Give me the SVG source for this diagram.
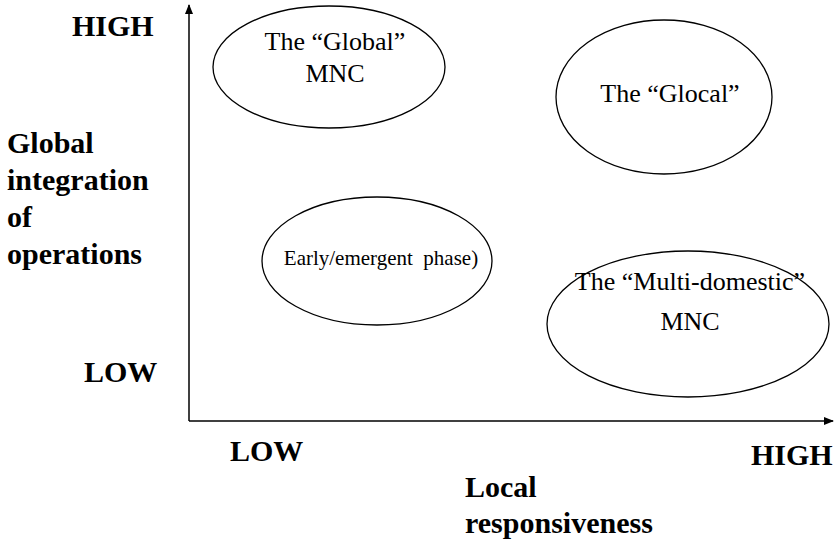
<svg xmlns="http://www.w3.org/2000/svg" width="835" height="544" viewBox="0 0 835 544">
  <style>
    .bg { fill: #ffffff; }
    .axis { stroke: #000; stroke-width: 1.5; fill: none; }
    .oval { stroke: #000; stroke-width: 1.3; fill: none; }
    .lbl { font-size: 26px; fill: #000; }
    .small { font-size: 21px; }
    .bold { font-weight: bold; font-size: 30px; fill: #000; }
  </style>
  <defs>
    <marker id="arrow" viewBox="0 0 10 10" refX="9" refY="5" markerWidth="10" markerHeight="10" markerUnits="userSpaceOnUse" orient="auto">
      <path d="M0,1 L10,5 L0,9 Z" fill="#000"/>
    </marker>
  </defs>
  <rect class="bg" x="0" y="0" width="835" height="544"/>

  <!-- axes -->
  <g id="connectors">
    <line class="axis" x1="189" y1="421" x2="189" y2="5" marker-end="url(#arrow)"/>
    <line class="axis" x1="189" y1="421" x2="833" y2="421" marker-end="url(#arrow)"/>
  </g>

  <g font-family="Liberation Serif, Times New Roman, serif">
    <!-- axis labels -->
    <g id="y-axis-labels">
      <text class="bold" x="72" y="36">HIGH</text>
      <text class="bold" x="84" y="382">LOW</text>
      <text class="bold" x="7" y="153">Global</text>
      <text class="bold" x="7" y="190">integration</text>
      <text class="bold" x="7" y="227">of</text>
      <text class="bold" x="7" y="264">operations</text>
    </g>
    <g id="x-axis-labels">
      <text class="bold" x="230" y="461">LOW</text>
      <text class="bold" x="751" y="465">HIGH</text>
      <text class="bold" x="465" y="497">Local</text>
      <text class="bold" x="465" y="533">responsiveness</text>
    </g>

    <!-- quadrants -->
    <g id="global-mnc">
      <ellipse class="oval" cx="329" cy="67" rx="116" ry="61"/>
      <text class="lbl" x="335" y="50" text-anchor="middle">The “Global”</text>
      <text class="lbl" x="335" y="82" text-anchor="middle">MNC</text>
    </g>
    <g id="glocal">
      <ellipse class="oval" cx="664" cy="97" rx="108" ry="77"/>
      <text class="lbl" x="670" y="102" text-anchor="middle">The “Glocal”</text>
    </g>
    <g id="early-phase">
      <ellipse class="oval" cx="377" cy="261" rx="115" ry="64"/>
      <text class="lbl small" x="381" y="265" text-anchor="middle" xml:space="preserve">Early/emergent  phase)</text>
    </g>
    <g id="multi-domestic">
      <ellipse class="oval" cx="688" cy="324" rx="141" ry="73"/>
      <text class="lbl" x="690" y="290" text-anchor="middle">The “Multi-domestic”</text>
      <text class="lbl" x="690" y="330" text-anchor="middle">MNC</text>
    </g>
  </g>
</svg>
